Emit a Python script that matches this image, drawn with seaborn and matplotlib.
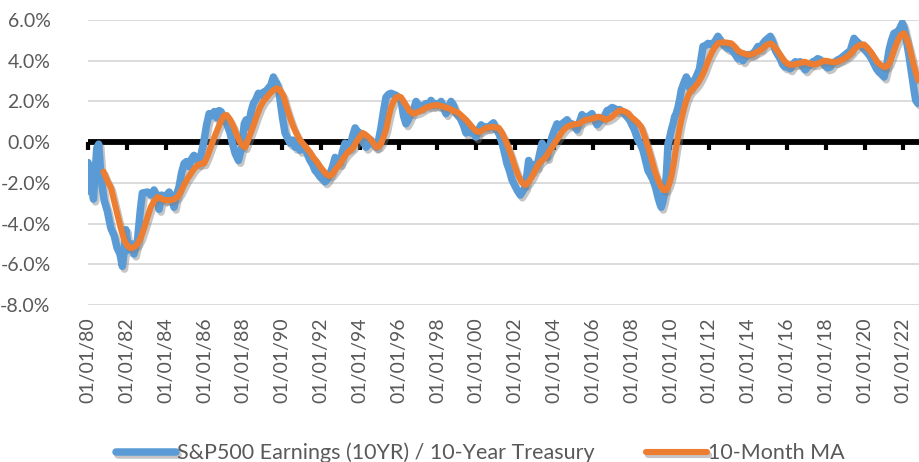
import numpy as np
import pandas as pd
import matplotlib
matplotlib.use("Agg")
import matplotlib.pyplot as plt
import matplotlib.patheffects as pe
from matplotlib.markers import TICKDOWN
import seaborn as sns

# S&P500 earnings yield (10yr) minus 10-year treasury, %
blue_years = [
    1980.00, 1980.08, 1980.17, 1980.28, 1980.45, 1980.55, 1980.68, 1980.83, 1981.00, 1981.17,
    1981.35, 1981.50, 1981.65, 1981.77, 1981.87, 1981.95, 1982.10, 1982.25, 1982.37, 1982.55,
    1982.70, 1982.80, 1983.06, 1983.25, 1983.40, 1983.55, 1983.66, 1983.80, 1983.92, 1984.05,
    1984.18, 1984.30, 1984.43, 1984.55, 1984.69, 1984.82, 1984.95, 1985.08, 1985.20, 1985.35,
    1985.46, 1985.60, 1985.72, 1985.85, 1985.98, 1986.10, 1986.24, 1986.37, 1986.50, 1986.62,
    1986.75, 1986.85, 1987.00, 1987.15, 1987.32, 1987.45, 1987.58, 1987.75, 1987.92, 1988.05,
    1988.15, 1988.26, 1988.40, 1988.52, 1988.65, 1988.78, 1988.90, 1989.03, 1989.17, 1989.29,
    1989.42, 1989.55, 1989.62, 1989.72, 1989.82, 1989.90, 1990.02, 1990.15, 1990.28, 1990.41,
    1990.55, 1990.67, 1990.80, 1990.92, 1991.05, 1991.18, 1991.30, 1991.44, 1991.57, 1991.70,
    1991.82, 1991.95, 1992.08, 1992.21, 1992.35, 1992.47, 1992.60, 1992.73, 1992.85, 1992.98,
    1993.10, 1993.24, 1993.37, 1993.50, 1993.63, 1993.76, 1993.88, 1994.01, 1994.07, 1994.20,
    1994.32, 1994.45, 1994.58, 1994.70, 1994.84, 1994.97, 1995.10, 1995.22, 1995.35, 1995.48,
    1995.61, 1995.74, 1995.87, 1996.00, 1996.13, 1996.25, 1996.38, 1996.50, 1996.64, 1996.77,
    1996.90, 1997.03, 1997.16, 1997.28, 1997.41, 1997.54, 1997.67, 1997.80, 1997.93, 1998.06,
    1998.19, 1998.31, 1998.44, 1998.57, 1998.70, 1998.83, 1998.96, 1999.09, 1999.22, 1999.35,
    1999.47, 1999.60, 1999.73, 1999.86, 1999.99, 2000.12, 2000.25, 2000.38, 2000.50, 2000.63,
    2000.76, 2000.89, 2001.02, 2001.15, 2001.33, 2001.45, 2001.58, 2001.71, 2001.84, 2001.97,
    2002.10, 2002.27, 2002.40, 2002.53, 2002.62, 2002.70, 2002.80, 2002.87, 2003.00, 2003.13,
    2003.26, 2003.39, 2003.52, 2003.65, 2003.78, 2003.90, 2004.03, 2004.16, 2004.29, 2004.42,
    2004.55, 2004.68, 2004.80, 2004.93, 2005.06, 2005.19, 2005.32, 2005.45, 2005.58, 2005.71,
    2005.84, 2005.96, 2006.09, 2006.22, 2006.35, 2006.48, 2006.61, 2006.74, 2006.87, 2007.00,
    2007.13, 2007.25, 2007.38, 2007.51, 2007.64, 2007.77, 2007.90, 2008.02, 2008.15, 2008.33,
    2008.46, 2008.59, 2008.72, 2008.85, 2008.97, 2009.10, 2009.23, 2009.36, 2009.45, 2009.53,
    2009.62, 2009.71, 2009.80, 2009.88, 2009.96, 2010.05, 2010.14, 2010.22, 2010.30, 2010.39,
    2010.48, 2010.56, 2010.69, 2010.82, 2010.91, 2011.00, 2011.12, 2011.25, 2011.37, 2011.50,
    2011.60, 2011.68, 2011.81, 2011.94, 2012.07, 2012.20, 2012.33, 2012.45, 2012.58, 2012.71,
    2012.84, 2012.97, 2013.10, 2013.23, 2013.35, 2013.48, 2013.61, 2013.74, 2013.87, 2014.00,
    2014.13, 2014.26, 2014.38, 2014.51, 2014.64, 2014.77, 2014.90, 2015.03, 2015.15, 2015.28,
    2015.41, 2015.53, 2015.66, 2015.79, 2015.91, 2016.04, 2016.17, 2016.30, 2016.43, 2016.56,
    2016.69, 2016.82, 2016.95, 2017.08, 2017.21, 2017.34, 2017.46, 2017.59, 2017.72, 2017.85,
    2017.98, 2018.11, 2018.24, 2018.37, 2018.50, 2018.63, 2018.76, 2018.88, 2019.01, 2019.14,
    2019.27, 2019.40, 2019.46, 2019.59, 2019.72, 2019.85, 2019.97, 2020.10, 2020.23, 2020.36,
    2020.49, 2020.62, 2020.75, 2020.88, 2021.01, 2021.13, 2021.26, 2021.39, 2021.52, 2021.65,
    2021.78, 2021.87, 2021.95, 2022.04, 2022.13, 2022.21, 2022.30, 2022.39, 2022.47, 2022.56,
    2022.64, 2022.76,
]
blue_vals = [
    -1.0, -2.4, -1.2, -2.8, -0.3, -0.1, -1.8, -2.85, -3.4, -4.2,
    -4.6, -5.2, -5.5, -6.1, -5.3, -4.3, -5.3, -5.0, -5.5, -4.8,
    -3.3, -2.5, -2.45, -2.6, -2.35, -2.7, -3.3, -2.6, -2.85, -2.6,
    -2.45, -2.7, -3.2, -2.6, -2.2, -1.5, -1.05, -0.95, -1.2, -0.8,
    -0.65, -0.8, -1.05, -0.5, 0.1, 0.8, 1.4, 1.3, 1.5, 1.2,
    1.55, 1.5, 1.2, 0.9, 0.45, -0.1, -0.55, -0.9, -0.25, 0.9,
    1.1, 0.75, 1.5, 1.9, 2.1, 2.4, 2.3, 2.45, 2.5, 2.65,
    2.8, 3.2, 3.0, 2.9, 2.6, 2.05, 1.2, 0.45, 0.2, -0.05,
    0.1, -0.25, -0.1, -0.4, -0.3, -0.25, -0.6, -0.9, -1.1, -1.4,
    -1.5, -1.7, -1.8, -1.95, -1.8, -1.55, -1.2, -0.75, -0.9, -1.05,
    -0.5, -0.05, -0.3, -0.25, 0.3, 0.7, 0.5, 0.45, 0.1, 0.0,
    -0.25, -0.1, 0.1, -0.1, -0.25, 0.1, 0.75, 1.5, 2.2, 2.35,
    2.4, 2.35, 2.3, 2.2, 2.05, 1.3, 0.9, 1.1, 1.4, 1.6,
    2.0, 1.8, 1.7, 1.8, 1.9, 1.8, 2.05, 1.8, 1.9, 1.8,
    2.0, 1.7, 1.4, 1.7, 2.0, 1.8, 1.4, 1.3, 1.1, 0.8,
    0.45, 0.55, 0.45, 0.5, 0.25, 0.6, 0.85, 0.7, 0.75, 0.7,
    0.85, 0.95, 0.6, 0.5, -0.05, -0.5, -1.05, -1.4, -1.85, -2.1,
    -2.35, -2.6, -2.4, -2.2, -1.5, -0.9, -1.3, -1.4, -1.1, -1.2,
    -0.6, -0.05, -0.4, -0.75, -0.2, 0.25, 0.6, 0.9, 0.7, 0.9,
    1.0, 1.1, 0.9, 0.9, 0.8, 0.6, 1.0, 1.35, 1.2, 1.25,
    1.3, 1.4, 1.1, 0.85, 1.0, 1.15, 1.3, 1.55, 1.6, 1.7,
    1.65, 1.55, 1.6, 1.5, 1.4, 1.25, 1.1, 0.85, 0.6, 0.1,
    -0.1, -0.4, -0.9, -1.4, -1.6, -1.85, -2.2, -2.7, -3.0, -3.2,
    -2.9, -2.5, -1.5, -0.05, 0.2, 0.6, 0.9, 1.25, 1.4, 1.7,
    2.1, 2.55, 2.9, 3.2, 3.0, 2.65, 2.9, 3.05, 3.3, 3.6,
    4.2, 4.7, 4.75, 4.85, 4.8, 4.85, 5.0, 5.2, 5.0, 4.8,
    4.7, 4.6, 4.6, 4.45, 4.3, 4.1, 4.2, 4.0, 4.2, 4.3,
    4.3, 4.35, 4.5, 4.7, 4.6, 4.85, 5.0, 5.1, 5.2, 4.9,
    4.5, 4.3, 4.1, 3.8, 3.7, 3.7, 3.6, 3.8, 3.95, 3.9,
    3.95, 3.7, 3.55, 3.7, 3.8, 3.95, 4.0, 4.1, 4.05, 3.9,
    3.75, 3.65, 3.7, 3.9, 3.95, 4.05, 4.1, 4.2, 4.3, 4.4,
    4.5, 4.9, 5.1, 4.95, 4.85, 4.7, 4.6, 4.45, 4.3, 4.1,
    3.85, 3.6, 3.45, 3.35, 3.2, 3.7, 4.5, 5.0, 5.35, 5.4,
    5.5, 5.7, 5.85, 5.6, 5.2, 4.7, 4.2, 3.6, 3.05, 2.5,
    2.05, 1.9,
]

# 10-month moving average
ma_years = [
    1980.80, 1980.95, 1981.10, 1981.17, 1981.35, 1981.50, 1981.68, 1981.86, 1982.03, 1982.20,
    1982.38, 1982.55, 1982.72, 1982.90, 1983.06, 1983.23, 1983.40, 1983.57, 1983.75, 1983.92,
    1984.09, 1984.26, 1984.43, 1984.60, 1984.77, 1984.95, 1985.12, 1985.30, 1985.47, 1985.64,
    1985.81, 1985.98, 1986.15, 1986.32, 1986.49, 1986.66, 1986.83, 1987.00, 1987.15, 1987.32,
    1987.50, 1987.66, 1987.83, 1988.00, 1988.10, 1988.30, 1988.50, 1988.68, 1988.86, 1989.03,
    1989.20, 1989.38, 1989.55, 1989.72, 1989.85, 1990.06, 1990.24, 1990.41, 1990.58, 1990.75,
    1990.92, 1991.10, 1991.27, 1991.44, 1991.60, 1991.78, 1991.95, 1992.12, 1992.30, 1992.45,
    1992.56, 1992.75, 1992.98, 1993.15, 1993.33, 1993.50, 1993.67, 1993.84, 1994.00, 1994.15,
    1994.32, 1994.50, 1994.67, 1994.84, 1995.00, 1995.10, 1995.22, 1995.35, 1995.48, 1995.61,
    1995.74, 1995.87, 1996.00, 1996.13, 1996.25, 1996.38, 1996.55, 1996.73, 1996.90, 1997.07,
    1997.24, 1997.41, 1997.58, 1997.76, 1997.93, 1998.10, 1998.27, 1998.44, 1998.62, 1998.79,
    1998.96, 1999.13, 1999.30, 1999.47, 1999.65, 1999.82, 1999.99, 2000.16, 2000.33, 2000.50,
    2000.68, 2000.85, 2001.00, 2001.16, 2001.33, 2001.50, 2001.67, 2001.84, 2002.01, 2002.19,
    2002.36, 2002.53, 2002.70, 2002.87, 2003.05, 2003.22, 2003.39, 2003.56, 2003.73, 2003.90,
    2004.07, 2004.25, 2004.42, 2004.60, 2004.76, 2004.93, 2005.10, 2005.28, 2005.45, 2005.62,
    2005.79, 2005.96, 2006.13, 2006.30, 2006.47, 2006.65, 2006.82, 2007.00, 2007.17, 2007.34,
    2007.51, 2007.68, 2007.85, 2008.02, 2008.16, 2008.33, 2008.50, 2008.67, 2008.85, 2009.02,
    2009.19, 2009.36, 2009.53, 2009.66, 2009.79, 2009.92, 2010.05, 2010.18, 2010.30, 2010.43,
    2010.56, 2010.69, 2010.82, 2010.95, 2011.08, 2011.25, 2011.42, 2011.60, 2011.77, 2011.94,
    2012.11, 2012.28, 2012.45, 2012.62, 2012.80, 2012.97, 2013.14, 2013.31, 2013.48, 2013.65,
    2013.83, 2014.00, 2014.17, 2014.34, 2014.51, 2014.68, 2014.86, 2015.00, 2015.17, 2015.34,
    2015.51, 2015.68, 2015.86, 2016.03, 2016.20, 2016.37, 2016.54, 2016.72, 2016.89, 2017.06,
    2017.23, 2017.40, 2017.57, 2017.74, 2017.92, 2018.09, 2018.26, 2018.43, 2018.60, 2018.77,
    2018.94, 2019.12, 2019.29, 2019.46, 2019.63, 2019.80, 2019.97, 2020.14, 2020.31, 2020.48,
    2020.65, 2020.82, 2021.00, 2021.13, 2021.26, 2021.39, 2021.52, 2021.65, 2021.78, 2021.91,
    2022.04, 2022.17, 2022.30, 2022.43, 2022.56, 2022.66, 2022.76,
]
ma_vals = [
    -1.45, -1.8, -2.1, -2.2, -2.9, -3.5, -4.2, -4.8, -5.1, -5.2,
    -5.15, -5.0, -4.7, -4.2, -3.7, -3.2, -2.9, -2.7, -2.75, -2.85,
    -2.85, -2.85, -2.8, -2.7, -2.45, -2.1, -1.8, -1.55, -1.3, -1.15,
    -1.05, -1.05, -0.7, -0.25, 0.2, 0.6, 1.0, 1.3, 1.33, 1.1,
    0.75, 0.35, 0.0, -0.2, -0.25, 0.25, 0.75, 1.25, 1.7, 2.0,
    2.2, 2.4, 2.55, 2.65, 2.6, 2.3, 1.7, 1.2, 0.75, 0.4,
    0.1, -0.1, -0.3, -0.5, -0.75, -0.95, -1.2, -1.4, -1.6, -1.65,
    -1.6, -1.35, -1.05, -0.8, -0.55, -0.4, -0.25, 0.05, 0.25, 0.45,
    0.35, 0.2, 0.0, -0.25, -0.2, -0.05, 0.25, 0.6, 1.2, 1.7,
    2.0, 2.2, 2.25, 2.2, 2.0, 1.8, 1.55, 1.4, 1.45, 1.5,
    1.6, 1.7, 1.75, 1.8, 1.82, 1.8, 1.75, 1.7, 1.65, 1.55,
    1.5, 1.4, 1.25, 1.1, 0.9, 0.7, 0.55, 0.5, 0.6, 0.7,
    0.72, 0.75, 0.72, 0.7, 0.45, 0.1, -0.3, -0.75, -1.25, -1.7,
    -2.0, -2.1, -1.95, -1.7, -1.35, -1.05, -0.9, -0.75, -0.5, -0.25,
    0.0, 0.25, 0.5, 0.7, 0.8, 0.85, 0.88, 0.9, 1.0, 1.1,
    1.12, 1.15, 1.2, 1.25, 1.2, 1.1, 1.15, 1.25, 1.4, 1.55,
    1.55, 1.5, 1.4, 1.2, 1.1, 0.95, 0.75, 0.3, -0.25, -0.8,
    -1.4, -1.85, -2.2, -2.35, -2.35, -2.1, -1.7, -1.0, -0.25, 0.45,
    1.1, 1.6, 2.05, 2.35, 2.55, 2.7, 2.9, 3.2, 3.55, 4.0,
    4.35, 4.65, 4.85, 4.9, 4.9, 4.88, 4.85, 4.7, 4.5, 4.4,
    4.35, 4.3, 4.3, 4.38, 4.45, 4.55, 4.7, 4.8, 4.85, 4.7,
    4.5, 4.25, 4.0, 3.85, 3.8, 3.82, 3.85, 3.9, 3.95, 3.9,
    3.85, 3.82, 3.85, 3.92, 4.0, 3.98, 3.95, 3.93, 3.95, 4.02,
    4.1, 4.2, 4.35, 4.55, 4.7, 4.78, 4.8, 4.65, 4.45, 4.2,
    3.95, 3.8, 3.7, 3.7, 3.85, 4.15, 4.5, 4.85, 5.1, 5.3,
    5.35, 5.1, 4.7, 4.2, 3.7, 3.35, 3.05,
]

tick_years = list(range(1980, 2023, 2))
tick_labels = ["01/01/%02d" % (y % 100) for y in tick_years]
y_ticks = [-8, -6, -4, -2, 0, 2, 4, 6]

BLUE = "#5B9BD5"
ORANGE = "#ED7D31"
GREY_TXT = "#595959"

sns.set_theme(style="white")
plt.rcParams["font.family"] = ["Lato", "DejaVu Sans"]

blue_df = pd.DataFrame({"year": blue_years, "value": blue_vals})
ma_df = pd.DataFrame({"year": ma_years, "value": ma_vals})

fig = plt.figure(figsize=(9.19, 4.62), dpi=100)
ax = fig.add_axes([88 / 919, 1 - 305 / 462, (919 - 88) / 919, (305 - 20) / 462])

shadow = [pe.SimpleLineShadow(offset=(1.5, -2), shadow_color="#7f7f7f", alpha=0.45), pe.Normal()]

# zero line acting as the category axis, with tick marks hanging below it
ax.axhline(0, color="black", linewidth=4.2, zorder=2)
ax.plot(tick_years, np.zeros(len(tick_years)), linestyle="none", marker=TICKDOWN,
        markersize=5.8, markeredgewidth=3, markeredgecolor="black", color="black",
        zorder=2.5, clip_on=False)

sns.lineplot(data=blue_df, x="year", y="value", ax=ax, color=BLUE, linewidth=5.4,
             solid_capstyle="round", solid_joinstyle="round", zorder=3,
             label="S&P500 Earnings (10YR) / 10-Year Treasury", path_effects=shadow)
sns.lineplot(data=ma_df, x="year", y="value", ax=ax, color=ORANGE, linewidth=4.4,
             solid_capstyle="round", solid_joinstyle="round", zorder=4,
             label="10-Month MA", path_effects=shadow)

ymin, ymax = -8, 6
ax.set_ylim(ymin, ymax)
ax.set_xlim(1980, 1980 + (919 - 87.9) / 19.415)

ax.set_yticks(y_ticks)
ax.set_yticklabels(["%.1f%%" % v for v in y_ticks])
ax.grid(axis="y", color="#d9d9d9", linewidth=1.3, zorder=0)
ax.set_axisbelow(True)
ax.set_xticks(tick_years)
ax.set_xticklabels(tick_labels, rotation=90)
ax.tick_params(axis="x", length=0, pad=9, labelsize=14, labelcolor=GREY_TXT)
ax.tick_params(axis="y", length=0, pad=27, labelsize=14, labelcolor=GREY_TXT)
for lab in ax.get_yticklabels():
    lab.set_horizontalalignment("right")
for sp in ax.spines.values():
    sp.set_visible(False)
ax.set_xlabel("")
ax.set_ylabel("")

handles, labels = ax.get_legend_handles_labels()
ax.get_legend().remove()
fig.legend(handles, labels, loc="center", bbox_to_anchor=(480 / 919, 1 - 453 / 462),
           ncol=2, frameon=False, fontsize=15.5, handlelength=2.8, handletextpad=0.05,
           columnspacing=2.4, labelcolor=GREY_TXT)

fig.savefig("out.png", dpi=100)
